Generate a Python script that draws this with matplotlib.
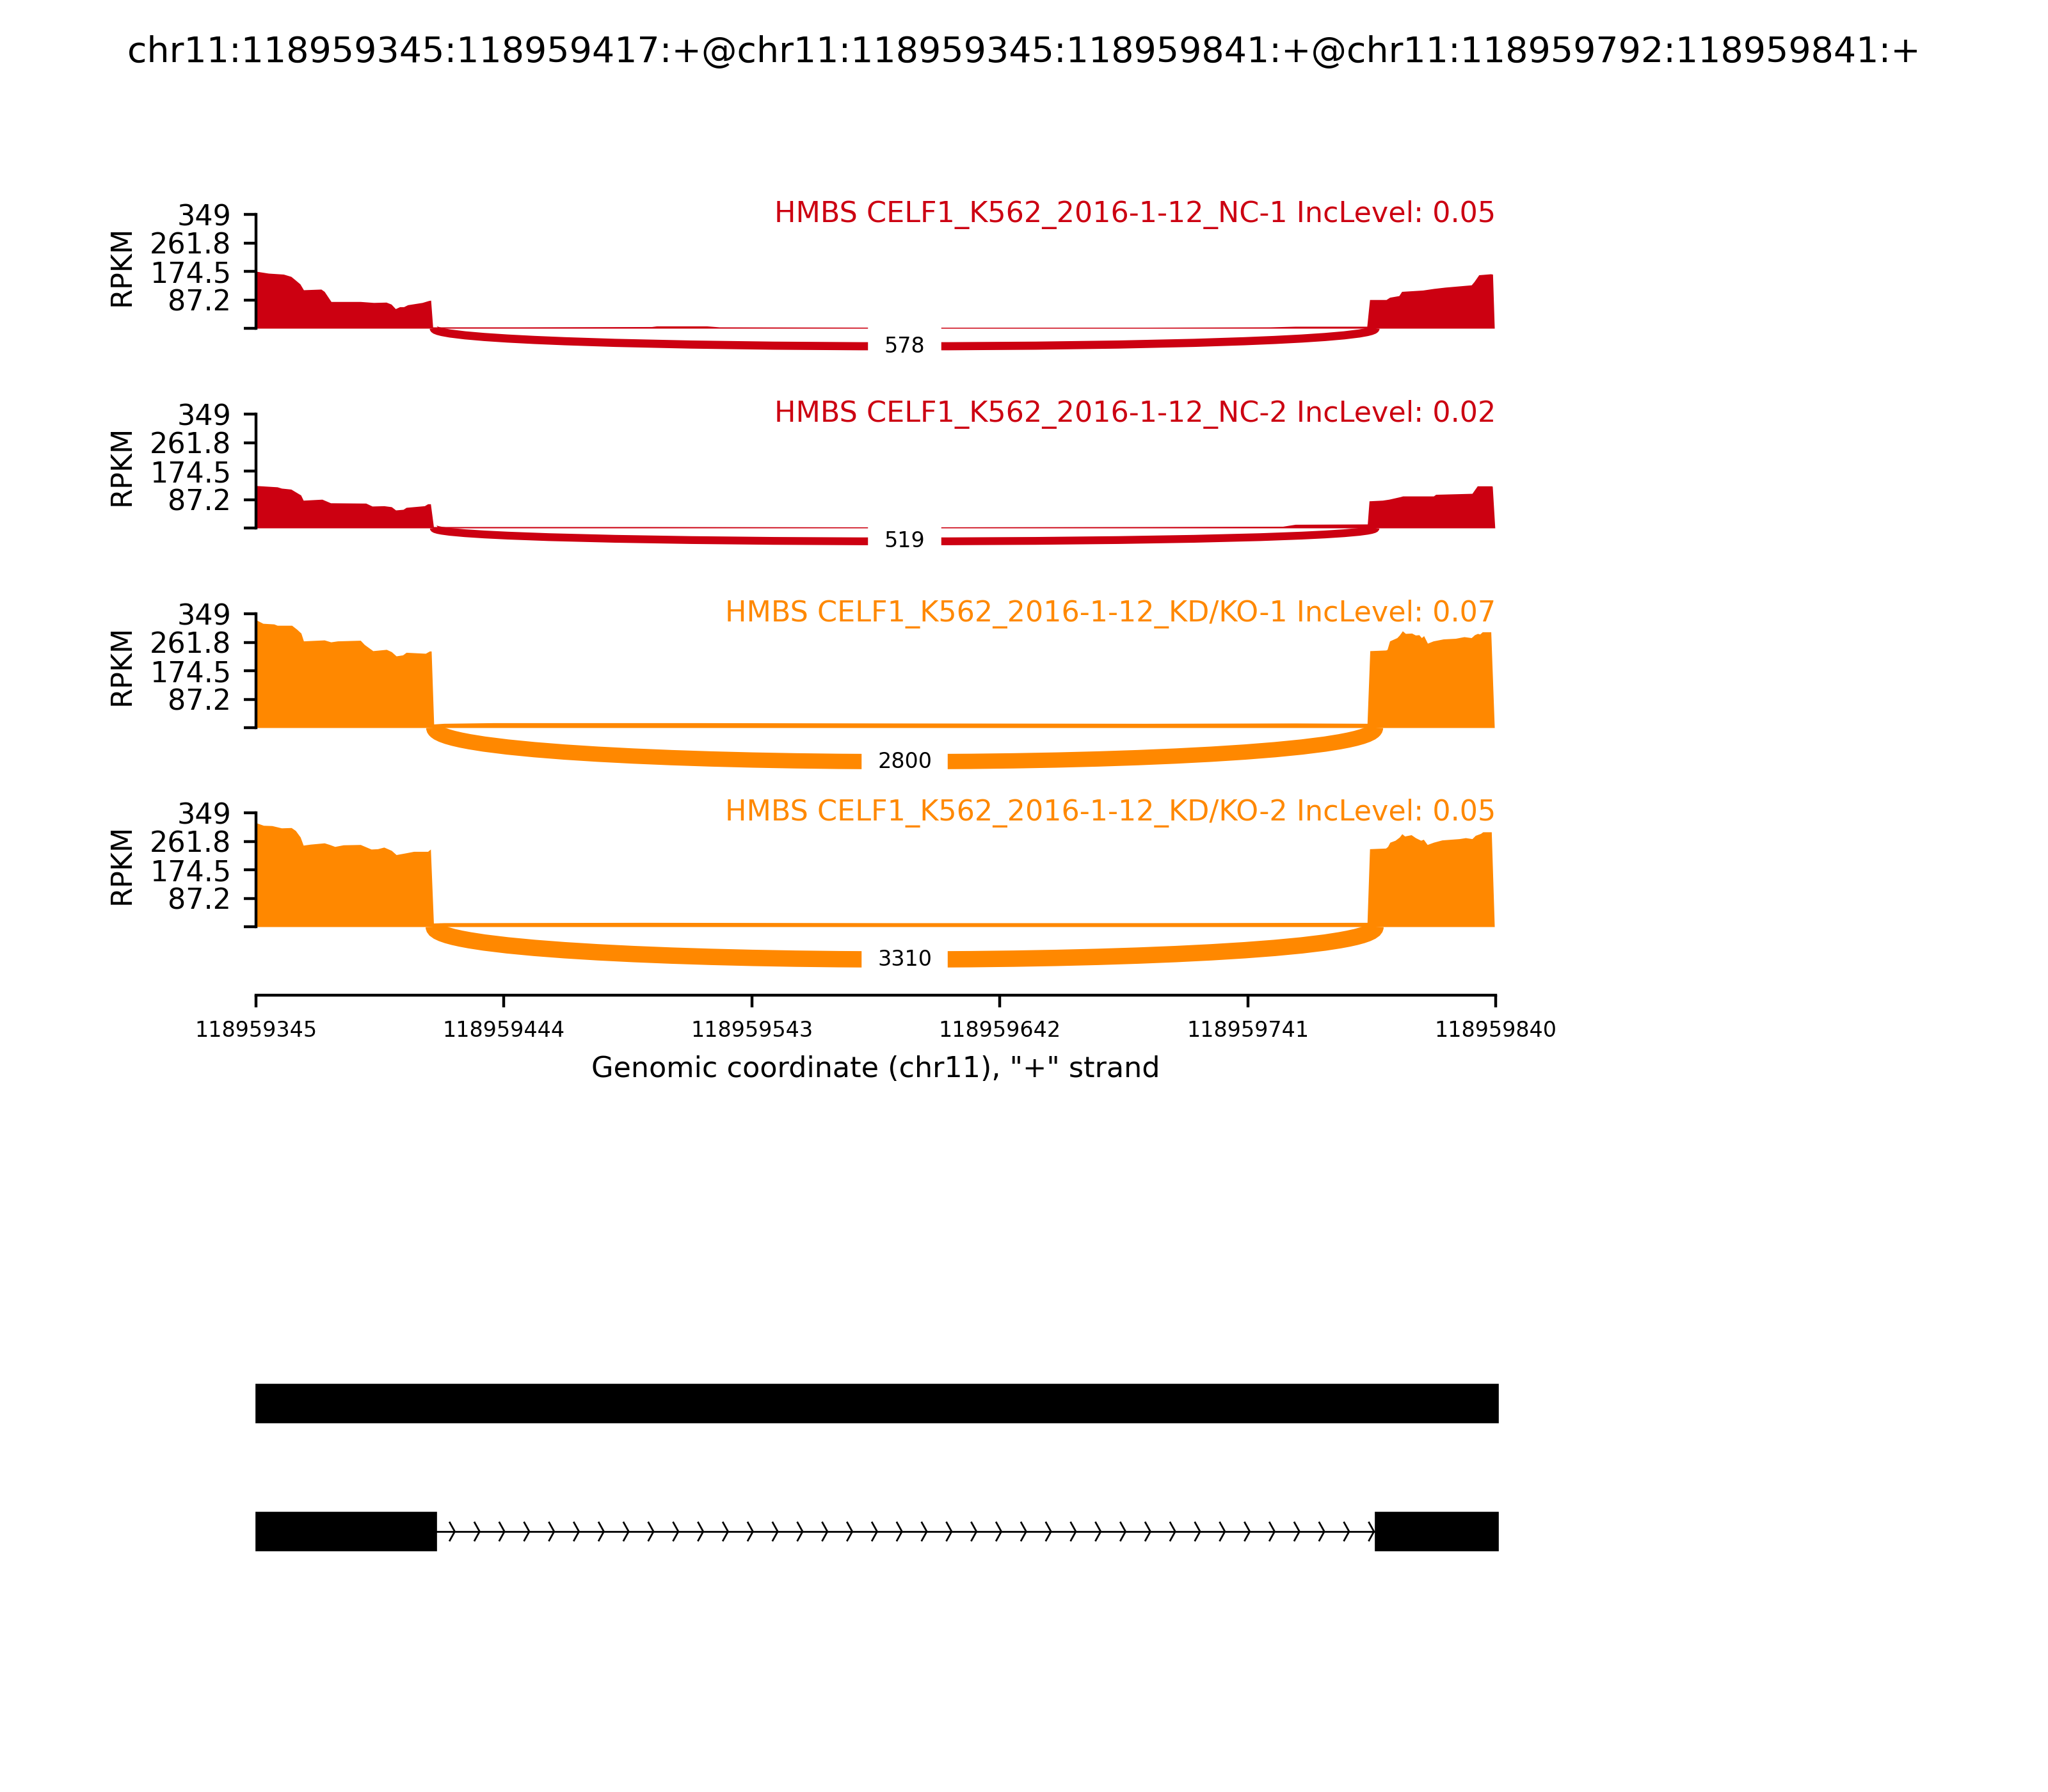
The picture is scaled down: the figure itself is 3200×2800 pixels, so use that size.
import numpy as np
import matplotlib
matplotlib.use("Agg")
import matplotlib.pyplot as plt
from matplotlib.path import Path
from matplotlib.patches import PathPatch, Rectangle

# ---------------- data ----------------
title = "chr11:118959345:118959417:+@chr11:118959345:118959841:+@chr11:118959792:118959841:+"
region_start = 118959345
region_len = 496
samples = ["HMBS CELF1_K562_2016-1-12_NC-1",
           "HMBS CELF1_K562_2016-1-12_NC-2",
           "HMBS CELF1_K562_2016-1-12_KD/KO-1",
           "HMBS CELF1_K562_2016-1-12_KD/KO-2"]
inc_levels = [0.05, 0.02, 0.07, 0.05]
junction_counts = [578, 519, 2800, 3310]
junction = (118959417, 118959792)
colors = ["#CC0011", "#CC0011", "#FF8800", "#FF8800"]
ymax_rpkm = 349
ytick_labels = ["", "87.2", "174.5", "261.8", "349"]
xtick_labels = ["118959345", "118959444", "118959543", "118959642", "118959741", "118959840"]
xlabel = 'Genomic coordinate (chr11), "+" strand'

# coverage (offset from region start, RPKM)
nc1_pos = [0, 5, 11, 14, 15.6, 17.6, 19, 26, 27.3, 30, 41.7, 47, 52, 54, 55.7, 57.4, 59, 60.6, 66.4, 69, 69.8, 70.6,
           75, 105, 158, 160, 180, 185, 255, 355, 405, 415, 443.6,
           444.7, 451.3, 452.7, 456.4, 457.5, 465.9, 470.3, 474.8, 485.3, 486.4, 488.3, 493, 493.8, 494.5]
nc1_val = [175, 169, 166, 159, 149, 136, 118, 120, 113, 82, 82, 79, 80, 74, 60, 66, 66, 72, 79, 85, 86, 4,
           4, 4, 5, 7, 7, 4, 3, 3, 4, 6, 6,
           88, 88, 95, 100, 113, 117, 122, 126, 133, 143, 164, 167, 166, 0]

nc2_pos = [0, 8.5, 10.2, 14, 17.9, 18.9, 26.4, 29.8, 43.9, 46.4, 51.1, 54.1, 55.8, 58.8, 60, 67.3, 68.6, 69.7, 70.9,
           75, 155, 255, 355, 410, 415, 443.8,
           444.5, 449.8, 452.4, 457, 457.9, 470.2, 471.1, 485.6, 487.7, 493.3, 493.7, 494.7]
nc2_val = [130, 126, 122, 119, 101, 85, 88, 77, 76, 67, 68, 65, 55, 57, 63, 68, 74, 74, 4,
           4, 4, 3, 4, 5, 11, 12,
           83, 85, 88, 96, 98, 98, 103, 106, 129, 129, 128, 0]

kd1_pos = [0, 2.8, 7.2, 8.5, 14.3, 16.3, 18, 19, 27.3, 29.9, 32.6, 41.7, 43.3, 46.7, 52.1, 54.1, 56, 58.6, 60, 67.7, 69.3, 70, 71,
           75, 95, 175, 255, 355, 415, 443.7,
           444.8, 451.2, 451.7, 452.7, 455.6, 456.6, 457.8, 459, 461.5, 463, 464.4, 465.4, 466.3, 467.8, 470.1, 474.1,
           479, 482.4, 485.3, 486.6, 487.8, 488.7, 489.7, 493.1, 494.5]
kd1_val = [331, 320, 318, 314, 314, 302, 290, 266, 269, 263, 266, 268, 255, 236, 240, 233, 220, 223, 231, 228, 235, 235, 11,
           13, 15, 15, 14, 13, 14, 13,
           236, 238, 240, 266, 276, 284, 297, 289, 290, 284, 285, 276, 282, 259, 266, 272,
           274, 279, 276, 285, 289, 287, 294, 294, 0]

kd2_pos = [0, 3, 6.4, 10.2, 14.1, 15.8, 17.7, 18.9, 21.7, 27.3, 29.4, 31.5, 34.9, 41.7, 46, 48.6, 51.1, 54.1, 56, 59.6, 63, 68.6, 69.7, 70.9,
           75, 155, 255, 355, 443.7,
           444.7, 451.1, 451.9, 452.8, 454.9, 456.6, 457.6, 458.7, 461.3, 463, 465.1, 466.2, 467.7, 470.2, 473.6,
           480.5, 483, 485.6, 486.9, 489, 489.9, 493.3, 494.5]
kd2_val = [319, 311, 310, 303, 304, 295, 275, 250, 253, 257, 252, 246, 251, 252, 238, 239, 244, 234, 221, 226, 231, 231, 238, 11,
           12, 13, 12, 12, 13,
           239, 241, 246, 259, 265, 275, 285, 278, 282, 273, 265, 268, 252, 259, 266,
           270, 273, 270, 280, 286, 291, 291, 0]

coverage = [(nc1_pos, nc1_val), (nc2_pos, nc2_val), (kd1_pos, kd1_val), (kd2_pos, kd2_val)]

# gene model: isoforms as exon lists (offsets)
isoform_full = [(0, 496)]
isoform_spliced = [(0, 72), (447, 496)]

# ---------------- layout ----------------
W, H = 3200, 2800
fig = plt.figure(figsize=(8, 7), dpi=400)

ax_left_px, ax_right_px = 400, 2337
zero_px = [513, 825, 1137, 1448]
px_per_unit = 0.509
ylo, yhi = -210, 400

fig.suptitle(title, fontsize=10, y=1 - 82 / H, va="center")

xmax = region_len - 1
ss1 = junction[0] - region_start - 1
ss2 = junction[1] - region_start
axes = []
for i in range(4):
    bottom_px = zero_px[i] - ylo * px_per_unit
    height_px = (yhi - ylo) * px_per_unit
    ax = fig.add_axes([ax_left_px / W, 1 - bottom_px / H,
                       (ax_right_px - ax_left_px) / W, height_px / H])
    pos, val = coverage[i]
    ax.fill_between(pos, val, 0, color=colors[i], lw=0)
    # junction arc
    h = 0.42 * max(val)
    pts = [(ss1, 0), (ss1, -h), (ss2, -h), (ss2, 0)]
    path = Path(pts, [Path.MOVETO, Path.CURVE4, Path.CURVE4, Path.CURVE4])
    lw = junction_counts[i] ** 0.4 * 72 / 400
    ax.add_patch(PathPatch(path, ec=colors[i], fc="none", lw=lw))
    ax.text((ss1 + ss2) / 2, -0.75 * h, str(junction_counts[i]), fontsize=6,
            ha="center", va="center", backgroundcolor="w")
    ax.text(xmax, ymax_rpkm, "%s IncLevel: %.2f" % (samples[i], inc_levels[i]),
            color=colors[i], fontsize=8, ha="right", va="center")
    ax.set_xlim(0, xmax)
    ax.set_ylim(ylo, yhi)
    ax.set_yticks(np.linspace(0, ymax_rpkm, 5))
    ax.set_yticklabels(ytick_labels, fontsize=8)
    ax.set_ylabel("RPKM", fontsize=8, y=0.66)
    ax.spines["top"].set_visible(False)
    ax.spines["right"].set_visible(False)
    ax.spines["left"].set_bounds(0, ymax_rpkm)
    if i < 3:
        ax.spines["bottom"].set_visible(False)
        ax.set_xticks([])
    else:
        ax.spines["bottom"].set_bounds(0, xmax)
        ax.set_xticks(np.linspace(0, xmax, 6))
        ax.set_xticklabels(xtick_labels, fontsize=6)
        ax.set_xlabel(xlabel, fontsize=8)
    ax.patch.set_visible(False)
    axes.append(ax)

# ---------------- gene model ----------------
gtop, gbot = 2093, 2493
gax = fig.add_axes([ax_left_px / W, 1 - gbot / H, (ax_right_px - ax_left_px) / W, (gbot - gtop) / H])
gax.set_xlim(0, xmax)
gax.set_ylim(0, 4)
gax.axis("off")
exon_h = 0.6
for yrow, exons in [(3, isoform_full), (1, isoform_spliced)]:
    for (s, e) in exons:
        gax.add_patch(Rectangle((s, yrow - exon_h / 2), e - s, exon_h, fc="k", ec="k", lw=0.3, clip_on=False))
    for (a, b) in zip(exons[:-1], exons[1:]):
        istart, iend = a[1], b[0]
        gax.plot([istart, iend], [yrow, yrow], color="k", lw=0.5)
        narrows = 50
        spread = 0.2 * region_len / narrows
        for k in range(narrows):
            loc = k * region_len / narrows
            if istart < loc - spread and loc <= iend:
                gax.plot([loc - spread, loc, loc - spread], [yrow - 0.14, yrow, yrow + 0.14], color="k", lw=0.5)

fig.savefig("out.png", dpi=400)
